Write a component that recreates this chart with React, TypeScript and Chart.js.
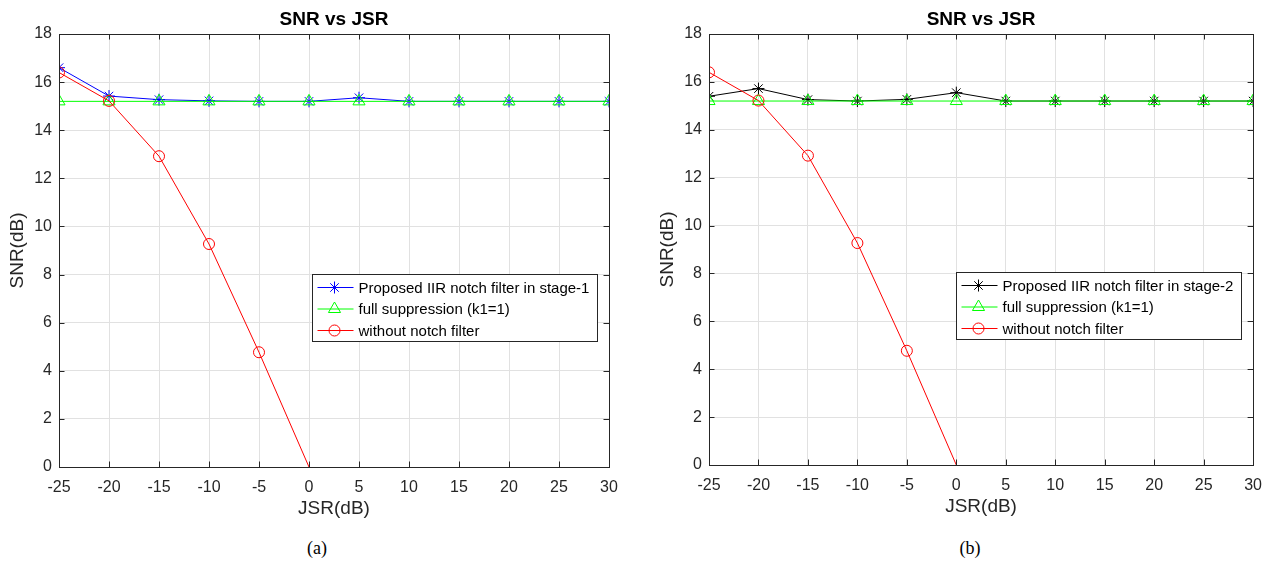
import React, { useEffect, useRef } from 'react';
import { Chart, registerables } from 'chart.js';
import { drawPoint } from 'chart.js/helpers';

Chart.register(...registerables);

// ---------------- data ----------------
const jsrDb = [-25, -20, -15, -10, -5, 0, 5, 10, 15, 20, 25, 30];
const snrStage1 = [16.6, 15.42, 15.27, 15.22, 15.2, 15.2, 15.35, 15.2, 15.2, 15.2, 15.2, 15.2];
const snrStage2 = [15.4, 15.72, 15.26, 15.2, 15.27, 15.55, 15.2, 15.2, 15.2, 15.2, 15.2, 15.2];
const snrFullSuppression = [15.2, 15.2, 15.2, 15.2, 15.2, 15.2, 15.2, 15.2, 15.2, 15.2, 15.2, 15.2];
const snrWithoutNotch = [16.4, 15.22, 12.92, 9.27, 4.77, 0];

const xTickValues = [-25, -20, -15, -10, -5, 0, 5, 10, 15, 20, 25, 30];
const yTickValues = [0, 2, 4, 6, 8, 10, 12, 14, 16, 18];

const chartTitle = 'SNR vs JSR';
const xAxisLabel = 'JSR(dB)';
const yAxisLabel = 'SNR(dB)';
const labelStage1 = 'Proposed IIR notch filter in stage-1';
const labelStage2 = 'Proposed IIR notch filter in stage-2';
const labelFull = 'full suppression (k1=1)';
const labelWithout = 'without notch filter';

// ---------------- styles ----------------
const FONT = "'Liberation Sans', Arial, Helvetica, sans-serif";
const AXIS_COLOR = '#262626';
const GRID_COLOR = '#e1e1e1';

const toPoints = (ys: number[]) => ys.map((y, i) => ({ x: jsrDb[i], y }));

const framePlugin = {
  id: 'matlabFrame',
  afterDatasetsDraw(chart: any) {
    const { ctx, chartArea: a, scales } = chart;
    const tl = 5.5;
    ctx.save();
    ctx.strokeStyle = AXIS_COLOR;
    ctx.lineWidth = 1;
    ctx.beginPath();
    const xs = scales.x;
    const ys = scales.y;
    xs.ticks.forEach((t: any) => {
      const px = Math.round(xs.getPixelForValue(t.value)) + 0.5;
      ctx.moveTo(px, a.bottom);
      ctx.lineTo(px, a.bottom - tl);
      ctx.moveTo(px, a.top);
      ctx.lineTo(px, a.top + tl);
    });
    ys.ticks.forEach((t: any) => {
      const py = Math.round(ys.getPixelForValue(t.value)) + 0.5;
      ctx.moveTo(a.left, py);
      ctx.lineTo(a.left + tl, py);
      ctx.moveTo(a.right, py);
      ctx.lineTo(a.right - tl, py);
    });
    ctx.stroke();
    ctx.strokeRect(Math.round(a.left) + 0.5, Math.round(a.top) + 0.5, Math.round(a.right - a.left), Math.round(a.bottom - a.top));
    ctx.restore();
  },
};

const panelTitlePlugin = {
  id: 'panelTitle',
  afterDraw(chart: any, _args: any, opts: any) {
    const { ctx, chartArea: a } = chart;
    ctx.save();
    ctx.fillStyle = '#000';
    ctx.font = `bold 19px ${FONT}`;
    ctx.textAlign = 'center';
    ctx.textBaseline = 'middle';
    ctx.fillText(opts.text, (a.left + a.right) / 2, a.top - 14);
    ctx.restore();
  },
};

const boxLegendPlugin = {
  id: 'boxLegend',
  afterDraw(chart: any, _args: any, opts: any) {
    const { ctx, chartArea: a } = chart;
    const w = opts.width;
    const h = opts.height;
    const x = Math.round(a.right - opts.right - w) + 0.5;
    const y = Math.round(a.top + opts.top) + 0.5;
    ctx.save();
    ctx.fillStyle = '#ffffff';
    ctx.fillRect(x, y, w, h);
    ctx.strokeStyle = AXIS_COLOR;
    ctx.lineWidth = 1;
    ctx.strokeRect(x, y, w, h);
    const items = chart.data.datasets.slice().sort((p: any, q: any) => p.legendIndex - q.legendIndex);
    items.forEach((ds: any, i: number) => {
      const cy = y + 13 + i * 21.5;
      ctx.strokeStyle = ds.borderColor;
      ctx.lineWidth = 1;
      ctx.beginPath();
      ctx.moveTo(x + 5, cy);
      ctx.lineTo(x + 41, cy);
      ctx.stroke();
      ctx.fillStyle = 'rgba(0,0,0,0)';
      drawPoint(ctx, { pointStyle: ds.pointStyle, radius: ds.markerSize, borderWidth: 1, rotation: 0 } as any, x + 22, cy);
      ctx.fillStyle = '#000';
      ctx.font = `15px ${FONT}`;
      ctx.textAlign = 'left';
      ctx.textBaseline = 'middle';
      ctx.fillText(ds.label, x + 46, cy + 1);
    });
    ctx.restore();
  },
};

function makeConfig(proposed: number[], proposedLabel: string, proposedColor: string, legendTop: number, rightPad: number) {
  return {
    type: 'line' as const,
    data: {
      datasets: [
        {
          label: proposedLabel,
          data: toPoints(proposed),
          borderColor: proposedColor,
          backgroundColor: 'rgba(0,0,0,0)',
          borderWidth: 1,
          pointStyle: 'star',
          pointRadius: 6,
          markerSize: 6,
          pointBorderWidth: 1,
          pointBorderColor: proposedColor,
          pointBackgroundColor: 'rgba(0,0,0,0)',
          order: 3,
          legendIndex: 0,
        },
        {
          label: labelFull,
          data: toPoints(snrFullSuppression),
          borderColor: '#00ff00',
          backgroundColor: 'rgba(0,0,0,0)',
          borderWidth: 1,
          pointStyle: 'triangle',
          pointRadius: 7,
          markerSize: 7,
          pointBorderWidth: 1,
          pointBorderColor: '#00ff00',
          pointBackgroundColor: 'rgba(0,0,0,0)',
          order: 2,
          legendIndex: 1,
        },
        {
          label: labelWithout,
          data: toPoints(snrWithoutNotch),
          borderColor: '#ff0000',
          backgroundColor: 'rgba(0,0,0,0)',
          borderWidth: 1,
          pointStyle: 'circle',
          markerSize: 5.5,
          pointRadius: (c: any) => (c.raw && c.raw.y <= 0 ? 0 : 5.5),
          pointBorderWidth: 1,
          pointBorderColor: '#ff0000',
          pointBackgroundColor: 'rgba(0,0,0,0)',
          order: 1,
          legendIndex: 2,
        },
      ],
    },
    options: {
      animation: false,
      responsive: false,
      devicePixelRatio: 1,
      layout: { padding: { top: 34, left: 0, right: rightPad, bottom: 0 } },
      plugins: {
        legend: { display: false },
        tooltip: { enabled: false },
        title: { display: false },
        panelTitle: { text: chartTitle },
        boxLegend: { width: 285, height: 67, right: 12, top: legendTop },
      },
      scales: {
        x: {
          type: 'linear',
          min: -25,
          max: 30,
          afterBuildTicks: (s: any) => {
            s.ticks = xTickValues.map((v) => ({ value: v }));
          },
          afterFit: (s: any) => {
            s.height = 63;
          },
          ticks: { color: AXIS_COLOR, font: { family: FONT, size: 16 }, padding: 11, maxRotation: 0, autoSkip: false },
          grid: { color: GRID_COLOR, drawTicks: false, lineWidth: 1 },
          border: { display: false },
          title: { display: true, text: xAxisLabel, color: AXIS_COLOR, font: { family: FONT, size: 19 }, padding: { top: 0, bottom: 10 } },
        },
        y: {
          type: 'linear',
          min: 0,
          max: 18,
          afterBuildTicks: (s: any) => {
            s.ticks = yTickValues.map((v) => ({ value: v }));
          },
          afterFit: (s: any) => {
            s.width = 59;
          },
          ticks: { color: AXIS_COLOR, font: { family: FONT, size: 16 }, padding: 7 },
          grid: { color: GRID_COLOR, drawTicks: false, lineWidth: 1 },
          border: { display: false },
          title: { display: true, text: yAxisLabel, color: AXIS_COLOR, font: { family: FONT, size: 19 }, padding: { top: 6, bottom: 0 } },
        },
      },
    },
    plugins: [framePlugin, panelTitlePlugin, boxLegendPlugin],
  };
}

function Panel(props: {
  left: number;
  width: number;
  height: number;
  rightPad: number;
  proposed: number[];
  proposedLabel: string;
  proposedColor: string;
  legendTop: number;
}) {
  const ref = useRef<HTMLCanvasElement | null>(null);
  useEffect(() => {
    if (!ref.current) return;
    const cfg: any = makeConfig(props.proposed, props.proposedLabel, props.proposedColor, props.legendTop, props.rightPad);
    const chart = new Chart(ref.current, cfg);
    return () => chart.destroy();
  }, []);
  return (
    <canvas
      ref={ref}
      width={props.width}
      height={props.height}
      style={{ position: 'absolute', left: props.left, top: 0, width: props.width, height: props.height }}
    />
  );
}

const captionStyle: React.CSSProperties = {
  position: 'absolute',
  top: 536,
  width: 40,
  textAlign: 'center',
  fontFamily: "'Liberation Serif', 'Times New Roman', serif",
  fontSize: 18,
  lineHeight: '24px',
  color: '#000',
};

export default function App() {
  return (
    <div style={{ position: 'absolute', left: 0, top: 0, width: 1273, height: 562, background: '#fff', overflow: 'hidden' }}>
      <Panel left={0} width={640} height={530} rightPad={31} proposed={snrStage1} proposedLabel={labelStage1} proposedColor="#0000ff" legendTop={240} />
      <Panel left={650} width={623} height={528} rightPad={17} proposed={snrStage2} proposedLabel={labelStage2} proposedColor="#000000" legendTop={238} />
      <div style={{ ...captionStyle, left: 297 }}>(a)</div>
      <div style={{ ...captionStyle, left: 950 }}>(b)</div>
    </div>
  );
}
